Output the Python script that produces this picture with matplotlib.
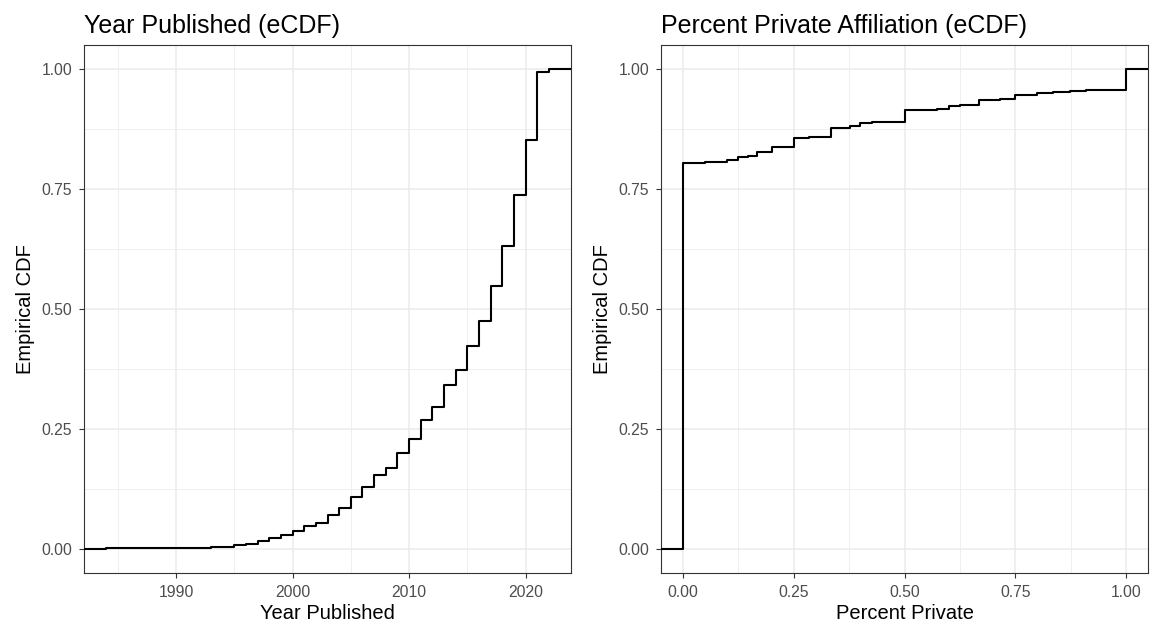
import numpy as np
import matplotlib
matplotlib.use('Agg')
from matplotlib import pyplot as plt
from matplotlib.ticker import MultipleLocator

plt.rcParams['font.family'] = ['Liberation Sans', 'DejaVu Sans']

# eCDF of year published (step positions and cumulative share)
years = [1984, 1992, 1993, 1994, 1995, 1996, 1997, 1998, 1999, 2000, 2001, 2002,
         2003, 2004, 2005, 2006, 2007, 2008, 2009, 2010, 2011, 2012, 2013, 2014,
         2015, 2016, 2017, 2018, 2019, 2020, 2021, 2022]
year_cdf = [0.002, 0.003, 0.004, 0.005, 0.008, 0.011, 0.016, 0.023, 0.030, 0.037,
            0.047, 0.054, 0.070, 0.085, 0.109, 0.129, 0.154, 0.168, 0.199, 0.230,
            0.268, 0.295, 0.341, 0.373, 0.422, 0.476, 0.548, 0.631, 0.737, 0.853,
            0.993, 1.000]

# eCDF of percent private affiliation
private = [0.0, 0.05, 0.10, 0.124, 0.146, 0.167, 0.20, 0.25, 0.284, 0.333, 0.378,
           0.40, 0.427, 0.50, 0.573, 0.60, 0.626, 0.669, 0.716, 0.75, 0.80, 0.836,
           0.874, 0.911, 1.0]
private_cdf = [0.805, 0.807, 0.811, 0.816, 0.819, 0.827, 0.838, 0.856, 0.858, 0.878,
               0.882, 0.887, 0.889, 0.915, 0.917, 0.922, 0.925, 0.935, 0.938, 0.945,
               0.949, 0.952, 0.955, 0.957, 1.0]

grid_major = '#EBEBEB'
dark = '#333333'
tick_col = '#4D4D4D'


def ecdf_panel(ax, x, y, title, xlabel, major, minor, fmt):
    lo, hi = min(x), max(x)
    pad = 0.05 * (hi - lo)
    ax.set_xlim(lo - pad, hi + pad)
    ax.set_ylim(-0.05, 1.05)
    xs = [lo - pad] + list(x) + [hi + pad]
    ys = [0.0] + list(y) + [1.0]
    ax.step(xs, ys, where='post', color='black', lw=1.5, zorder=3)

    ax.xaxis.set_major_locator(MultipleLocator(major))
    ax.xaxis.set_minor_locator(MultipleLocator(minor))
    ax.yaxis.set_major_locator(MultipleLocator(0.25))
    ax.yaxis.set_minor_locator(MultipleLocator(0.125))
    ax.xaxis.set_major_formatter(fmt)
    ax.yaxis.set_major_formatter(lambda v, p: f'{v:.2f}')
    ax.grid(which='major', color=grid_major, lw=1.1)
    ax.grid(which='minor', color=grid_major, lw=0.55)
    ax.set_axisbelow(True)
    ax.tick_params(which='major', length=3.5, width=0.8, color=dark,
                   labelsize=11.3, labelcolor=tick_col, pad=5)
    ax.tick_params(which='minor', length=0)
    for s in ax.spines.values():
        s.set_color(dark)
        s.set_linewidth(0.8)
    ax.set_xlabel(xlabel, fontsize=14.5, labelpad=3)
    ax.set_ylabel('Empirical CDF', fontsize=14.5, labelpad=4.5)
    ax.set_title(title, fontsize=18, loc='left', pad=9)


fig = plt.figure(figsize=(11.51, 6.25), dpi=100)
ax1 = fig.add_axes([84 / 1151, 1 - 573 / 625, (571 - 84) / 1151, (573 - 45) / 625])
ax2 = fig.add_axes([661 / 1151, 1 - 573 / 625, (1148 - 661) / 1151, (573 - 45) / 625])

ecdf_panel(ax1, years, year_cdf, 'Year Published (eCDF)', 'Year Published',
           10, 5, lambda v, p: f'{v:.0f}')
ecdf_panel(ax2, private, private_cdf, 'Percent Private Affiliation (eCDF)',
           'Percent Private', 0.25, 0.125, lambda v, p: f'{v:.2f}')

fig.savefig('out.png', dpi=100)
